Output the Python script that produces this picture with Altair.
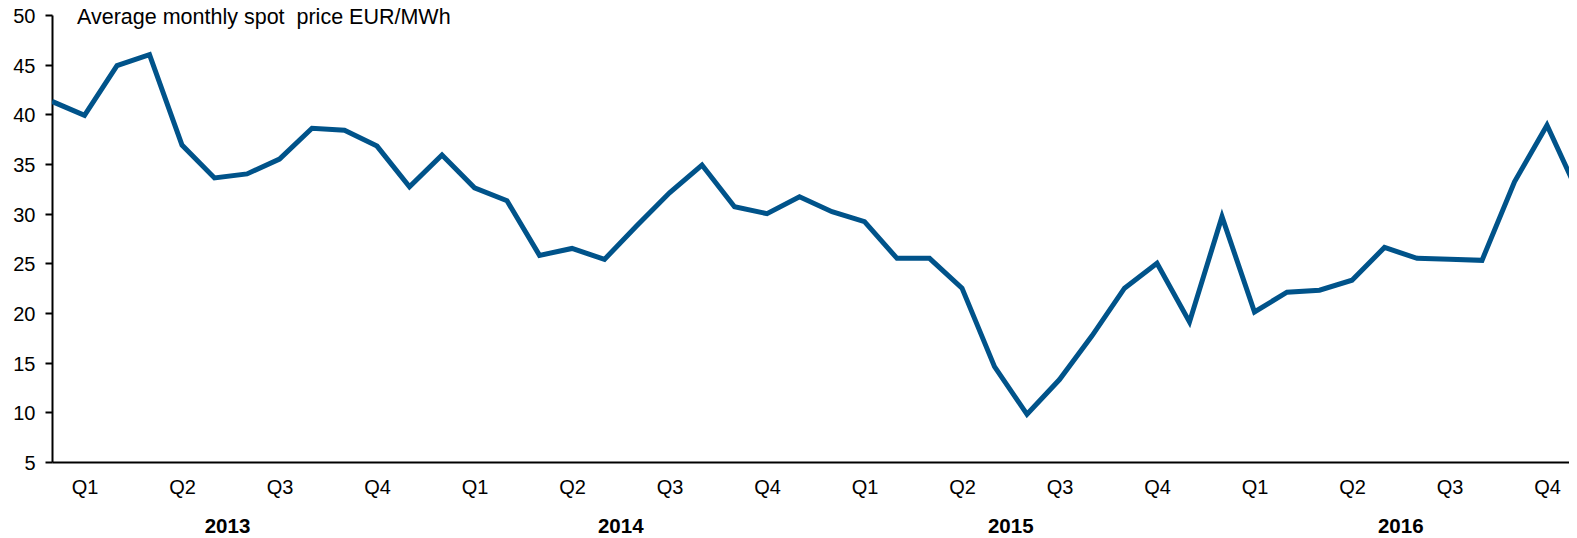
import altair as alt
import pandas as pd

# Monthly index 0 = Jan 2013 ... 47 = Dec 2016
months = list(range(48))
prices = [41.3, 39.9, 44.9, 46.0, 36.9, 33.6, 34.0, 35.5, 38.6, 38.4, 36.8, 32.7,
          35.9, 32.6, 31.3, 25.8, 26.5, 25.4, 28.8, 32.1, 34.9, 30.7, 30.0, 31.7,
          30.2, 29.2, 25.5, 25.5, 22.5, 14.6, 9.8, 13.3, 17.7, 22.5, 25.0, 19.1,
          29.7, 20.1, 22.1, 22.3, 23.3, 26.6, 25.5, 25.4, 25.3, 33.2, 38.9, 31.8]

quarter_pos = [1, 4, 7, 10, 13, 16, 19, 22, 25, 28, 31, 34, 37, 40, 43, 46]
years = ["2013", "2014", "2015", "2016"]
year_pos = [5.4, 17.5, 29.5, 41.5]
y_ticks = [5, 10, 15, 20, 25, 30, 35, 40, 45, 50]
title_text = "Average monthly spot\u00a0 price EUR/MWh"

FONT = "Liberation Sans"
W, H = 1517, 447
SPACING = 32.5

df = pd.DataFrame({"m": months, "price": prices})
df_years = pd.DataFrame({"m": year_pos, "year": years})

xscale = alt.Scale(domain=[0, W / SPACING], nice=False, zero=False)
yscale = alt.Scale(domain=[5, 50], nice=False, zero=False)

line = alt.Chart(df).mark_line(
    color="#00538A", strokeWidth=5, strokeJoin="miter", clip=True
).encode(
    x=alt.X("m:Q", scale=xscale,
            axis=alt.Axis(values=quarter_pos, title=None, grid=False, ticks=False,
                          tickSize=0, domain=True, domainColor="#000000", domainWidth=2,
                          labelExpr="'Q' + ((((datum.value - 1) / 3) % 4) + 1)",
                          labelFont=FONT, labelFontSize=20, labelColor="#000000",
                          labelBaseline="alphabetic", labelPadding=31,
                          labelFlush=False, labelOverlap=False, labelBound=False)),
    y=alt.Y("price:Q", scale=yscale,
            axis=alt.Axis(values=y_ticks, title=None, grid=False, ticks=True,
                          tickSize=7, tickColor="#000000", tickWidth=2,
                          domain=True, domainColor="#000000", domainWidth=2,
                          labelFont=FONT, labelFontSize=20, labelColor="#000000",
                          labelPadding=10, labelOffset=1.5,
                          labelFlush=False, labelOverlap=False)),
)

year_text = alt.Chart(df_years).mark_text(
    font=FONT, fontSize=20.5, fontWeight="bold", color="#000000",
    align="center", baseline="alphabetic"
).encode(
    x=alt.X("m:Q", scale=xscale),
    y=alt.value(H + 70.7),
    text="year:N",
)

title = alt.Chart(pd.DataFrame({"t": [title_text]})).mark_text(
    font=FONT, fontSize=21.5, color="#000000", align="left", baseline="alphabetic"
).encode(
    x=alt.value(25),
    y=alt.value(8.5),
    text="t:N",
)

chart = alt.layer(line, year_text, title).properties(
    width=W, height=H,
    padding={"left": 44, "top": 7, "right": 0, "bottom": 76},
    autosize=alt.AutoSizeParams(type="none"),
).configure_view(stroke=None)

chart.save("out.html", embed_options={"renderer": "svg", "actions": False})
